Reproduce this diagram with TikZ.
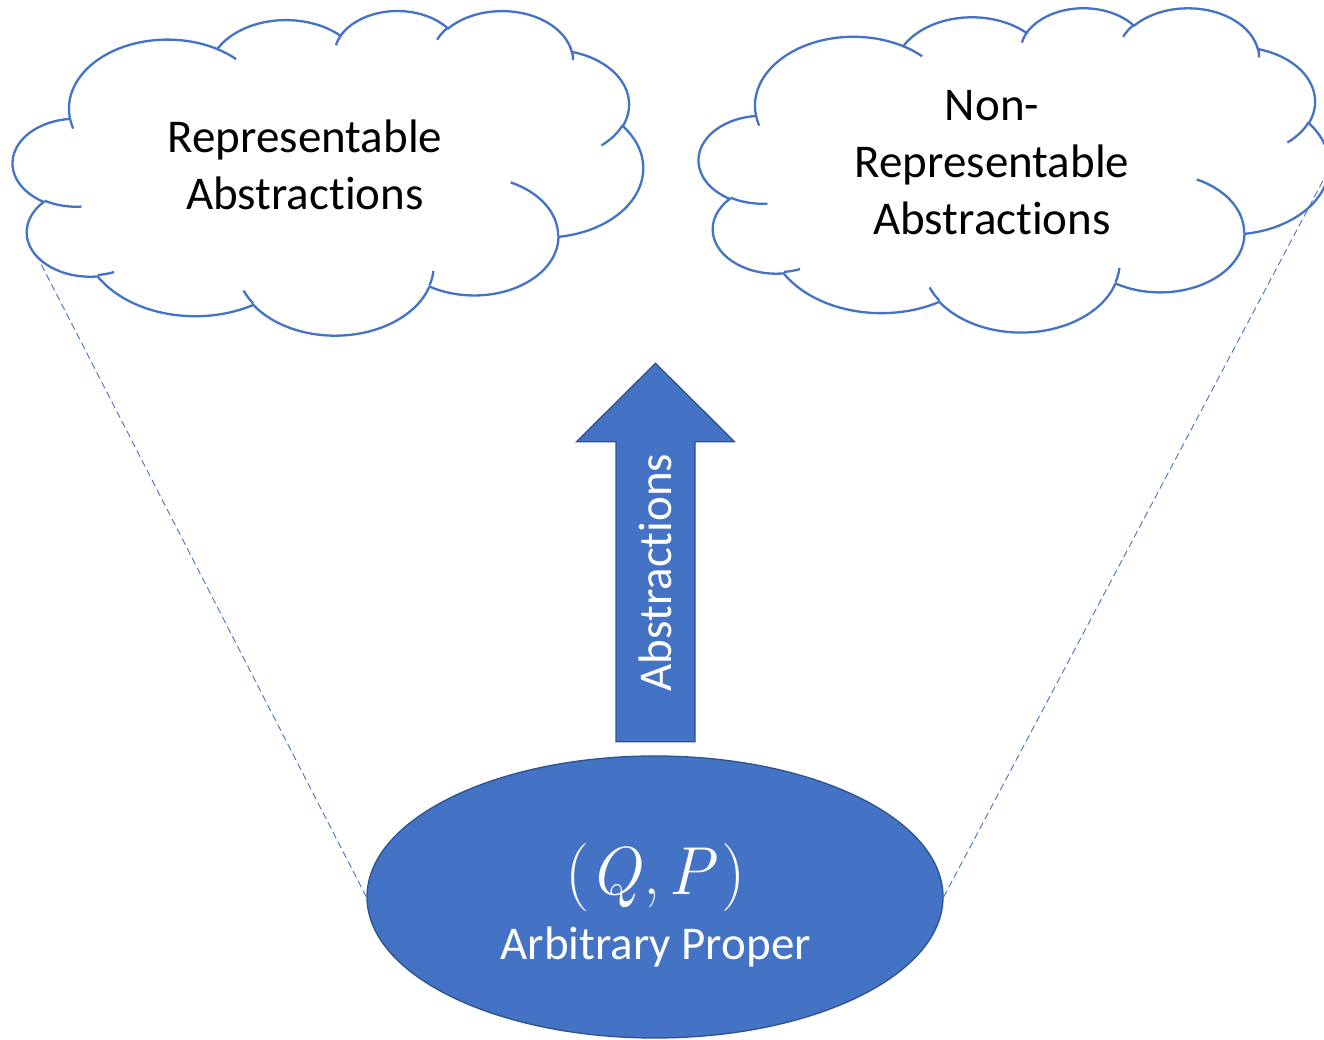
\documentclass[tikz,border=0pt]{standalone}
\usepackage{fontspec}
\setmainfont{Carlito}[Ligatures=NoCommon]
\newfontfamily\pairfont{Latin Modern Roman}
\usetikzlibrary{shapes.geometric}

\definecolor{officeblue}{HTML}{4472C4}
\definecolor{officeblueedge}{HTML}{2F528F}

% One elliptic arc of the cloud outline.
% #1,#2: x/y radius in per cent of the frame; #3: start angle; #4: sweep
% (visual angles, measured clockwise with y pointing down).
\newcommand\cloudarcspec[4]{%
  \pgfmathsetmacro\cldta{atan2((#1)*sin(#3),(#2)*cos(#3))}%
  \pgfmathsetmacro\cldtb{atan2((#1)*sin((#3)+(#4)),(#2)*cos((#3)+(#4)))}%
  \pgfmathsetmacro\cldtd{(\cldtb)-(\cldta)}%
  \pgfmathsetmacro\cldtd{(\cldtd)+360*((#4)>0)*((\cldtd)<0)-360*((#4)<0)*((\cldtd)>0)}%
  \pgfmathsetmacro\cldrx{(#1)*\cldw}%
  \pgfmathsetmacro\cldry{(#2)*\cldh}%
  \pgfmathsetmacro\cldsa{0-(\cldta)}%
  \pgfmathsetmacro\cldsd{0-(\cldtd)}%
  \xdef\cldarc{arc[start angle=\cldsa, delta angle=\cldsd, x radius=\cldrx pt, y radius=\cldry pt]}%
}
\newcommand\cloudstep[4]{%
  \cloudarcspec{#1}{#2}{#3}{#4}%
  \xdef\cldpath{\cldpath\space\cldarc}}
% #1,#2: start point of a crease line (per cent of the frame)
\newcommand\creasestep[6]{%
  \cloudarcspec{#3}{#4}{#5}{#6}%
  \pgfmathsetmacro\cldmx{(#1)*\cldw}%
  \pgfmathsetmacro\cldmy{0-(#2)*\cldh}%
  \xdef\cldcrease{\cldcrease\space(\cldmx,\cldmy)\space\cldarc}}

% Cloud in the frame with top-left corner (#2,#3) (y measured from the top),
% width #4 and height #5; #1 names its centre, #6 names its right side.
\newcommand\drawcloud[6]{%
  \pgfmathsetmacro\cldw{(#4)/100}%
  \pgfmathsetmacro\cldh{(#5)/100}%
  \gdef\cldpath{}%
  \cloudstep{15.632}{21.273}{-190.4875}{123.7805}%
  \cloudstep{12.345}{16.822}{-144.1024}{89.9452}%
  \cloudstep{10.104}{13.762}{-145.8079}{99.7230}%
  \cloudstep{11.243}{15.266}{-130.9861}{117.2417}%
  \cloudstep{12.345}{16.836}{-78.7089}{109.0269}%
  \cloudstep{15.683}{21.343}{-46.2673}{130.2690}%
  \cloudstep{13.391}{18.211}{0.6250}{114.0333}%
  \cloudstep{15.630}{21.331}{22.4516}{115.1726}%
  \cloudstep{17.870}{24.405}{66.2426}{75.7110}%
  \cloudstep{10.093}{13.699}{-274.9421}{146.7356}%
  \cloudstep{10.058}{13.762}{-246.8285}{152.5189}%
  \gdef\cldcrease{}%
  \creasestep{10.863}{60.595}{10.058}{13.762}{86.742}{26.4295}%
  \creasestep{16.037}{80.785}{10.093}{13.699}{73.6105}{11.4475}%
  \creasestep{38.144}{90.486}{15.630}{21.331}{137.6242}{14.0811}%
  \creasestep{66.729}{80.442}{15.630}{21.331}{6.4533}{15.9984}%
  \creasestep{79.002}{53.134}{13.391}{18.211}{-70.2924}{70.9174}%
  \creasestep{96.755}{35.542}{12.345}{16.836}{30.3180}{27.7515}%
  \creasestep{88.713}{12.560}{11.243}{15.266}{-13.7443}{14.8589}%
  \creasestep{67.310}{9.148}{11.243}{15.266}{-149.1815}{18.1954}%
  \creasestep{51.252}{10.926}{10.104}{13.762}{-163.4943}{17.6864}%
  \creasestep{32.407}{12.019}{15.632}{21.273}{-66.7070}{12.3194}%
  \creasestep{9.553}{36.549}{15.632}{21.273}{157.6544}{11.8582}%
  \begin{scope}[shift={(#2,1040-#3)}]
    \filldraw[cloudline, fill=white] (9.028*\cldw,-33.264*\cldh) \cldpath -- cycle;
    \draw[cloudline] \cldcrease;
    \coordinate (#1) at (50*\cldw,-50*\cldh);
    \coordinate (#6) at (100*\cldw,-50*\cldh);
  \end{scope}
}

\begin{document}
\begin{tikzpicture}[x=1pt, y=1pt,
    cloudline/.style={draw=officeblue, line width=2.3pt, line join=round},
    cloudtext/.style={align=center, inner sep=0pt, text=black,
      font=\fontsize{47}{57}\selectfont},
    blocktext/.style={inner sep=0pt, text=white, font=\fontsize{47}{57}\selectfont},
    blockshape/.style={fill=officeblue, draw=officeblueedge, line width=1.3pt, line join=miter},
    guide/.style={draw=officeblue, line width=0.9pt, dash pattern=on 7pt off 4pt}]

  \useasboundingbox[fill=white] (0,0) rectangle (1324,1040);

  % the two clouds
  \drawcloud{reprcloud}{13}{10}{630}{324.5}{reprside}
  \drawcloud{nonreprcloud}{699}{7.2}{630}{324.2}{nonreprside}

  \node[cloudtext] (reprlabel) at (305,1040-164.5) {Representable\\Abstractions};
  \node[cloudtext] (nonreprlabel) at (992,1040-163) {Non-\\Representable\\Abstractions};

  % base of the cone
  \node[ellipse, blockshape, minimum width=576pt, minimum height=282pt, inner sep=0pt]
    (core) at (655,1040-897) {};
  \node[anchor=base, inner sep=0pt, text=white, font=\pairfont\fontsize{68}{80}\selectfont]
    (pairlabel) at (655.7,1040-895) {(\textit{Q}\kern0.02em,\kern0.12em\textit{P}\kern0.06em)};
  \node[blocktext, anchor=base] (corelabel) at (655.6,1040-960) {Arbitrary Proper};

  % dashed edges of the cone
  \coordinate (reprfoot) at (40,1040-262);
  \draw[guide] (core.west) -- (reprfoot);
  \draw[guide] (core.east) -- (nonreprside);

  % block arrow
  \coordinate (tip) at (655.5,1040-363.3);
  \draw[blockshape] (tip) -- (734.5,1040-441.7) -- (695,1040-441.7) -- (695,1040-741.7)
    -- (616,1040-741.7) -- (616,1040-441.7) -- (576.5,1040-441.7) -- cycle;
  \node[blocktext, rotate=90, anchor=base] (liftlabel) at (671.5,1040-572.5) {Abstractions};
\end{tikzpicture}
\end{document}
